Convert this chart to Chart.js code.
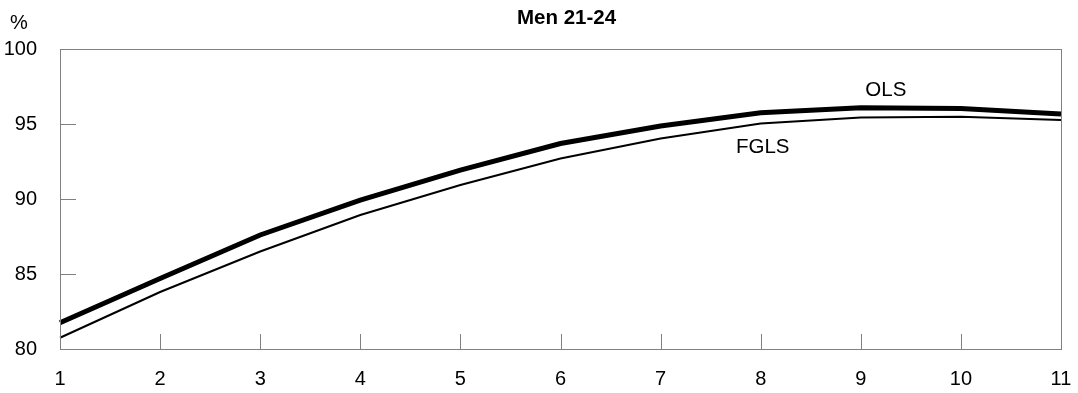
<!DOCTYPE html>
<html>
<head>
<meta charset="utf-8">
<script src="https://cdn.jsdelivr.net/npm/chart.js@4/dist/chart.umd.min.js"></script>
<style>
  html, body { margin: 0; padding: 0; background: #fff; }
  #wrap { width: 1078px; height: 393px; position: relative; }
</style>
</head>
<body>
<div id="wrap"><canvas id="chart"></canvas></div>
<script>
// data
const periods = [1, 2, 3, 4, 5, 6, 7, 8, 9, 10, 11];
const olsValues = [81.75, 84.7, 87.6, 89.93, 91.93, 93.7, 94.87, 95.75, 96.09, 96.04, 95.67];
const fglsValues = [80.75, 83.8, 86.5, 88.93, 90.93, 92.7, 94.04, 95.04, 95.44, 95.49, 95.27];
const yTicks = [80, 85, 90, 95, 100];

// series labels placed in data units
const seriesLabels = [
  { text: 'OLS', x: 9.25, y: 97.27 },
  { text: 'FGLS', x: 8.02, y: 93.47 }
];

const FONT = '"Liberation Sans", Arial, sans-serif';
const FRAME = '#808080';

// frame + inward tick marks + text labels
const framePlugin = {
  id: 'frame',
  afterDraw(chart) {
    const { ctx, chartArea: a, scales } = chart;
    ctx.save();
    ctx.strokeStyle = FRAME;
    ctx.lineWidth = 1;
    ctx.strokeRect(a.left + 0.5, a.top + 0.5, a.right - a.left, a.bottom - a.top);
    ctx.beginPath();
    scales.x.ticks.forEach((t, i) => {
      const px = Math.round(scales.x.getPixelForTick(i)) + 0.5;
      ctx.moveTo(px, a.bottom);
      ctx.lineTo(px, a.bottom - 15);
    });
    scales.y.ticks.forEach((t, i) => {
      const py = Math.round(scales.y.getPixelForTick(i)) + 0.5;
      ctx.moveTo(a.left, py);
      ctx.lineTo(a.left + 16, py);
    });
    ctx.stroke();

    ctx.fillStyle = '#000';
    ctx.textAlign = 'center';
    ctx.textBaseline = 'middle';
    ctx.font = '20.5px ' + FONT;
    seriesLabels.forEach(l => {
      const lx = scales.x.getPixelForValue(l.x - 1);
      const ly = scales.y.getPixelForValue(l.y);
      ctx.fillText(l.text, lx, ly);
    });
    ctx.font = 'bold 20.5px ' + FONT;
    ctx.fillText('Men 21-24', (a.left + a.right) / 2 + 6, 18);
    ctx.font = '20px ' + FONT;
    ctx.fillText('%', 19, 23);
    ctx.restore();
  }
};

new Chart(document.getElementById('chart'), {
  type: 'line',
  data: {
    labels: periods,
    datasets: [
      {
        label: 'OLS',
        data: olsValues,
        borderColor: '#000',
        borderWidth: 5,
        pointRadius: 0,
        tension: 0,
        fill: false
      },
      {
        label: 'FGLS',
        data: fglsValues,
        borderColor: '#000',
        borderWidth: 2,
        pointRadius: 0,
        tension: 0,
        fill: false
      }
    ]
  },
  options: {
    responsive: true,
    maintainAspectRatio: false,
    animation: false,
    layout: { padding: { left: 0, right: 17, top: 49, bottom: 0 } },
    plugins: {
      legend: { display: false },
      tooltip: { enabled: false },
      title: { display: false }
    },
    scales: {
      x: {
        grid: { display: false },
        border: { display: false },
        ticks: {
          color: '#000',
          font: { family: FONT, size: 20 },
          padding: 10,
          maxRotation: 0,
          autoSkip: false
        },
        afterFit(scale) {
          scale.height = 44;
          scale.paddingLeft = 0;
          scale.paddingRight = 0;
        }
      },
      y: {
        min: 80,
        max: 100,
        grid: { display: false },
        border: { display: false },
        afterBuildTicks(scale) { scale.ticks = yTicks.map(v => ({ value: v })); },
        ticks: {
          color: '#000',
          font: { family: FONT, size: 20 },
          padding: 15
        },
        afterFit(scale) { scale.width = 60; }
      }
    }
  },
  plugins: [framePlugin]
});
</script>
</body>
</html>
